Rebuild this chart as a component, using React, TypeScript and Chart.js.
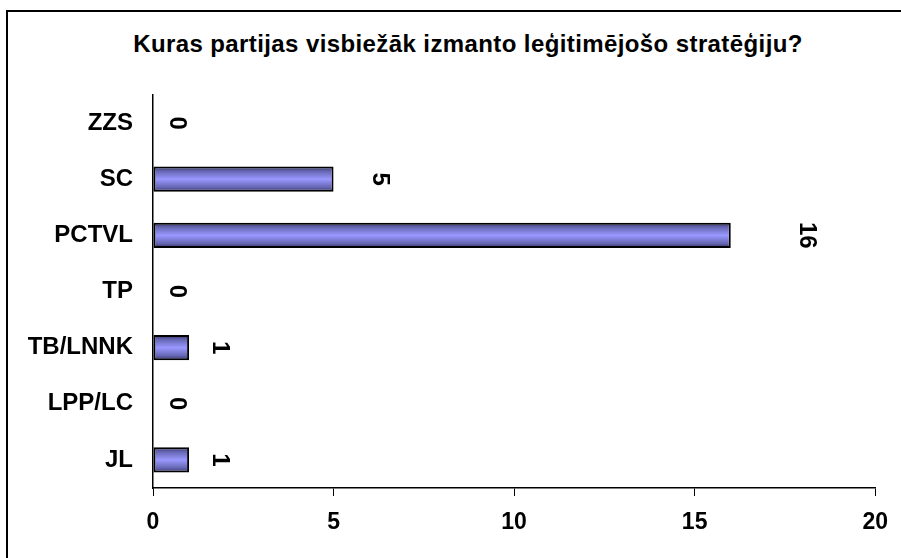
import { useEffect, useRef } from "react";
import { Chart, registerables } from "chart.js";

Chart.register(...registerables);

const chartTitle = "Kuras partijas visbiežāk izmanto leģitimējošo stratēģiju?";
const categories = ["ZZS", "SC", "PCTVL", "TP", "TB/LNNK", "LPP/LC", "JL"];
const values = [0, 5, 16, 0, 1, 0, 1];
const xMin = 0;
const xMax = 20;
const xStep = 5;

const FONT = "'Liberation Sans', Arial, Helvetica, sans-serif";
const BAR_PCT = 0.45;

const valueLabels = {
  id: "valueLabels",
  afterDatasetsDraw(chart: any) {
    const ctx = chart.ctx;
    const xs = chart.scales.x;
    const ys = chart.scales.y;
    ctx.save();
    ctx.fillStyle = "#000";
    ctx.font = `bold 24px ${FONT}`;
    ctx.textAlign = "center";
    ctx.textBaseline = "middle";
    values.forEach((v, i) => {
      const x = xs.getPixelForValue(v) + 25 + 6.5 * Math.pow(v, 0.75);
      const y = ys.getPixelForValue(i);
      ctx.save();
      ctx.translate(x, y);
      ctx.rotate(Math.PI / 2);
      ctx.fillText(String(v), 0, 1);
      ctx.restore();
    });
    ctx.restore();
  },
};

export default function App() {
  const ref = useRef<HTMLCanvasElement | null>(null);

  useEffect(() => {
    if (!ref.current) return;
    const chart = new Chart(ref.current, {
      type: "bar",
      data: {
        labels: categories,
        datasets: [
          {
            data: values,
            backgroundColor: (c: any) => {
              const ch = c.chart;
              const ys = ch.scales?.y;
              if (!ys || c.type !== "data") return "#9999ff";
              const yc = ys.getPixelForValue(c.dataIndex);
              const step = Math.abs(ys.getPixelForValue(1) - ys.getPixelForValue(0));
              const half = (step * BAR_PCT) / 2;
              if (!isFinite(yc) || !isFinite(half) || half <= 0) return "#9999ff";
              const g = ch.ctx.createLinearGradient(0, yc - half, 0, yc + half);
              g.addColorStop(0, "#333366");
              g.addColorStop(0.18, "#6666b3");
              g.addColorStop(0.5, "#9999ff");
              g.addColorStop(0.82, "#6666b3");
              g.addColorStop(1, "#333366");
              return g;
            },
            borderColor: "#000",
            borderWidth: 2,
            borderSkipped: false,
            barPercentage: BAR_PCT,
            categoryPercentage: 1,
          },
        ],
      },
      options: {
        indexAxis: "y",
        responsive: false,
        animation: false,
        layout: { padding: { top: 95, left: 0, right: 23, bottom: 10 } },
        plugins: {
          legend: { display: false },
          title: { display: false },
          tooltip: { enabled: false },
        },
        scales: {
          x: {
            min: xMin,
            max: xMax,
            ticks: {
              stepSize: xStep,
              color: "#000",
              font: { family: FONT, size: 23, weight: "bold" },
              padding: 13,
              maxRotation: 0,
            },
            grid: {
              drawOnChartArea: false,
              drawTicks: true,
              tickLength: 8,
              color: "#000",
              lineWidth: 1,
            },
            border: { display: true, color: "#000", width: 1.5 },
            afterFit: (s: any) => {
              s.height = 60;
            },
          },
          y: {
            ticks: {
              color: "#000",
              font: { family: FONT, size: 24, weight: "bold" },
              padding: 20,
            },
            grid: { display: false, drawTicks: false },
            border: { display: true, color: "#000", width: 1.5 },
            afterFit: (s: any) => {
              s.width = 153;
            },
          },
        },
      },
      plugins: [valueLabels],
    });
    return () => chart.destroy();
  }, []);

  return (
    <div
      style={{
        position: "fixed",
        left: 0,
        top: 0,
        width: 901,
        height: 558,
        overflow: "hidden",
        background: "#fff",
      }}
    >
      <div
        style={{
          position: "absolute",
          left: 6,
          top: 10,
          width: 1000,
          height: 1000,
          border: "2px solid #000",
        }}
      />
      <div
        style={{
          position: "absolute",
          left: 0,
          top: 30,
          width: 936,
          textAlign: "center",
          fontFamily: FONT,
          fontWeight: "bold",
          fontSize: 24,
          letterSpacing: "0.4px",
          lineHeight: "28px",
          color: "#000",
          whiteSpace: "nowrap",
        }}
      >
        {chartTitle}
      </div>
      <canvas
        ref={ref}
        width={901}
        height={558}
        style={{ position: "absolute", left: 0, top: 0, width: 901, height: 558 }}
      />
    </div>
  );
}
